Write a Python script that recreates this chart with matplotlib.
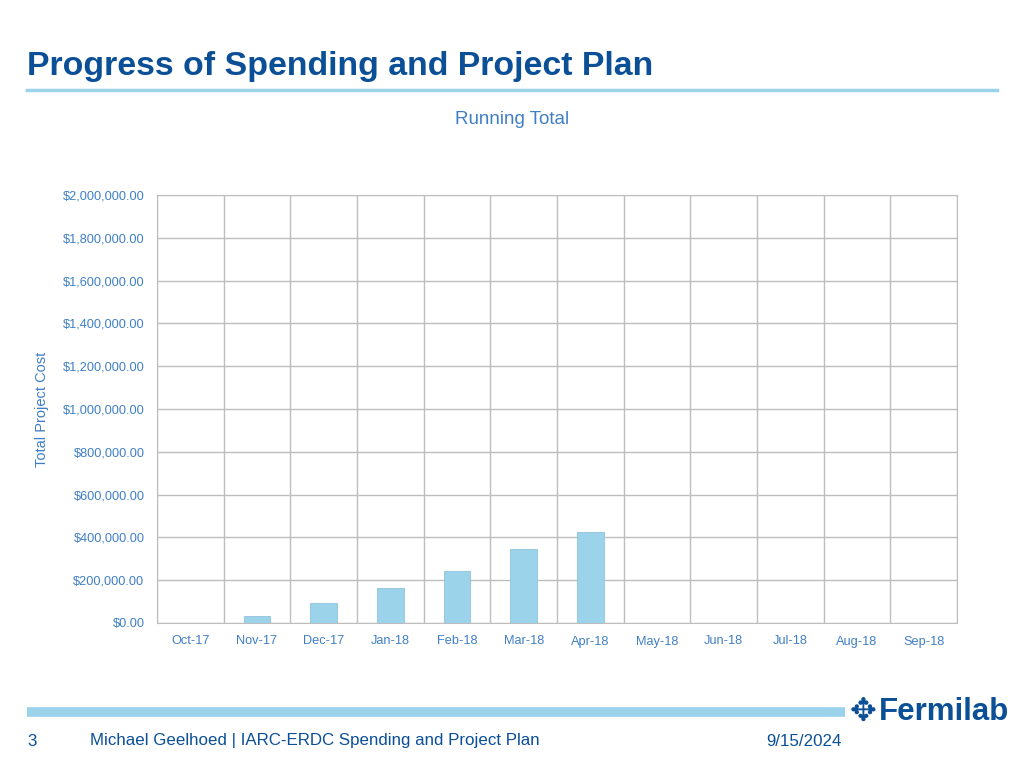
import matplotlib.pyplot as plt
import numpy as np
from matplotlib.ticker import FuncFormatter, MultipleLocator

plt.rcParams['font.family'] = ['Liberation Sans', 'DejaVu Sans']

# data
months = ['Oct-17', 'Nov-17', 'Dec-17', 'Jan-18', 'Feb-18', 'Mar-18',
          'Apr-18', 'May-18', 'Jun-18', 'Jul-18', 'Aug-18', 'Sep-18']
running_total = [0, 33000, 93000, 164000, 243000, 346000,
                 424000, 0, 0, 0, 0, 0]

label_blue = '#3F7FC6'
title_blue = '#0B4F97'
light_blue = '#9AD3EA'
grid_gray = '#BDBDBD'

fig = plt.figure(figsize=(10.24, 7.68), dpi=100)

# slide title and rule
fig.text(27 / 1024, 1 - 66 / 768, 'Progress of Spending and Project Plan',
         fontsize=24.4, fontweight='bold', color=title_blue, va='center')
fig.add_artist(plt.Line2D([27 / 1024, 997 / 1024], [1 - 90 / 768] * 2,
                          color=light_blue, lw=2.5))

# chart
ax = fig.add_axes([157 / 1024, 1 - 623 / 768, 800 / 1024, 428 / 768])
x = np.arange(len(months))
ax.bar(x, running_total, width=0.4, color=light_blue,
       edgecolor='#8FC3DA', linewidth=0.6, zorder=3)
ax.set_xlim(-0.5, len(months) - 0.5)
ax.set_ylim(0, 2000000)
ax.yaxis.set_major_locator(MultipleLocator(200000))
ax.yaxis.set_major_formatter(FuncFormatter(lambda v, p: '${:,.2f}'.format(v)))
ax.set_xticks(x)
ax.set_xticklabels(months)
ax.set_xticks(np.arange(-0.5, len(months)), minor=True)
ax.tick_params(axis='both', which='both', length=0, colors=label_blue,
               labelsize=9.2)
ax.tick_params(axis='x', pad=9)
ax.tick_params(axis='y', pad=9)
ax.grid(axis='y', which='major', color=grid_gray, lw=1, zorder=0)
ax.grid(axis='x', which='minor', color=grid_gray, lw=1, zorder=0)
for s in ax.spines.values():
    s.set_color(grid_gray)
ax.set_ylabel('Total Project Cost', color=label_blue, fontsize=10.5,
              labelpad=10)
fig.text(512 / 1024, 1 - 120 / 768, 'Running Total', color=label_blue,
         fontsize=13.5, ha='center', va='center')

# footer
fig.add_artist(plt.Line2D([27 / 1024, 845 / 1024], [1 - 712 / 768] * 2,
                          color=light_blue, lw=7, solid_capstyle='butt'))
fig.text(27 / 1024, 1 - 741 / 768, '3', fontsize=12.2, color=title_blue, va='center')
fig.text(90 / 1024, 1 - 741 / 768,
         'Michael Geelhoed | IARC-ERDC Spending and Project Plan',
         fontsize=12.2, color=title_blue, va='center')
fig.text(766 / 1024, 1 - 741 / 768, '9/15/2024', fontsize=12.2,
         color=title_blue, va='center')
fig.text(850 / 1024, 1 - 712 / 768, '\u2725', fontsize=23, color=title_blue,
         va='center', family=['DejaVu Sans'])
fig.text(879 / 1024, 1 - 712 / 768, 'Fermilab', fontsize=22.5,
         fontweight='bold', color=title_blue, va='center')

fig.savefig('out.png', dpi=100)
